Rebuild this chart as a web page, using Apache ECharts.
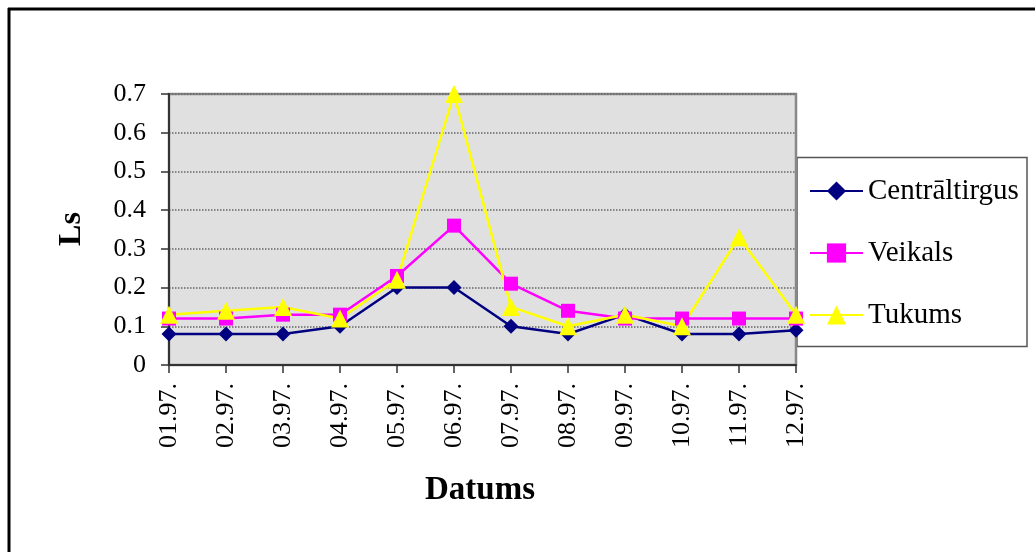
<!DOCTYPE html>
<html>
<head>
<meta charset="utf-8">
<script src="https://cdn.jsdelivr.net/npm/echarts@6/dist/echarts.min.js"></script>
<style>
html,body{margin:0;padding:0;background:#fff;}
#c{width:1035px;height:552px;}
</style>
</head>
<body>
<div id="c"></div>
<script>
const categories = ['01.97.','02.97.','03.97.','04.97.','05.97.','06.97.','07.97.','08.97.','09.97.','10.97.','11.97.','12.97.'];
const centraltirgus = [0.08,0.08,0.08,0.10,0.20,0.20,0.10,0.08,0.13,0.08,0.08,0.09];
const veikals = [0.12,0.12,0.13,0.13,0.23,0.36,0.21,0.14,0.12,0.12,0.12,0.12];
const tukums = [0.13,0.14,0.15,0.12,0.22,0.70,0.15,0.10,0.13,0.10,0.33,0.13];
const seriesNames = ['Centrāltirgus','Veikals','Tukums'];

const FONT = 'Liberation Serif';
const chart = echarts.init(document.getElementById('c'));
function mk(name, data, color, symbol, size){
  return {
    name, type:'line', data, symbol, symbolSize:size,
    lineStyle:{color, width:2.5},
    itemStyle:{color, borderWidth:0},
    z: 3, animation:false
  };
}
chart.setOption({
  animation:false,
  backgroundColor:'#fff',
  grid:{left:169,top:94,width:627,height:271,show:true,backgroundColor:'#e0e0e0',borderColor:'#888',borderWidth:2.5},
  legend:{
    orient:'vertical', left:809, top:175, padding:0, itemGap:30,
    itemWidth:53, itemHeight:24,
    data:seriesNames,
    textStyle:{fontFamily:FONT,fontSize:29,color:'#000',lineHeight:32}
  },
  xAxis:{
    type:'category', data:categories, boundaryGap:false,
    axisLine:{lineStyle:{color:'#333',width:2}},
    axisTick:{show:true,inside:false,length:8,interval:0,lineStyle:{color:'#333',width:1.5}},
    axisLabel:{rotate:90,interval:0,margin:18,fontFamily:FONT,fontSize:26,color:'#000'},
    splitLine:{show:false}
  },
  yAxis:{
    type:'value', min:0, max:0.7, interval:0.1,
    axisLine:{show:true,lineStyle:{color:'#333',width:2}},
    axisTick:{show:true,inside:false,length:8,lineStyle:{color:'#333',width:1.5}},
    axisLabel:{margin:23,fontFamily:FONT,fontSize:26,color:'#000',formatter:v=>String(Math.round(v*10)/10)},
    splitLine:{show:true,lineStyle:{color:'#666',type:'dotted',width:1.5}}
  },
  graphic:[
    {type:'line',shape:{x1:9,y1:8,x2:9,y2:552},style:{stroke:'#000',lineWidth:3},silent:true},
    {type:'line',shape:{x1:8,y1:9,x2:1035,y2:9},style:{stroke:'#000',lineWidth:3},silent:true},
    {type:'rect',shape:{x:797,y:157.5,width:230,height:189},style:{fill:'#fff',stroke:'#555',lineWidth:1.5},z:-1,silent:true},
    {type:'text',x:72,y:229,rotation:Math.PI/2,style:{text:'Ls',font:'bold 32px "Liberation Serif"',fill:'#000',align:'center',verticalAlign:'middle'}},
    {type:'text',x:480,y:490,style:{text:'Datums',font:'bold 33px "Liberation Serif"',fill:'#000',align:'center',verticalAlign:'middle'}}
  ],
  series:[
    mk(seriesNames[0], centraltirgus, '#000080','diamond',15),
    mk(seriesNames[1], veikals, '#ff00ff','rect',14),
    mk(seriesNames[2], tukums, '#ffff00','triangle',18)
  ]
});
</script>
</body>
</html>
